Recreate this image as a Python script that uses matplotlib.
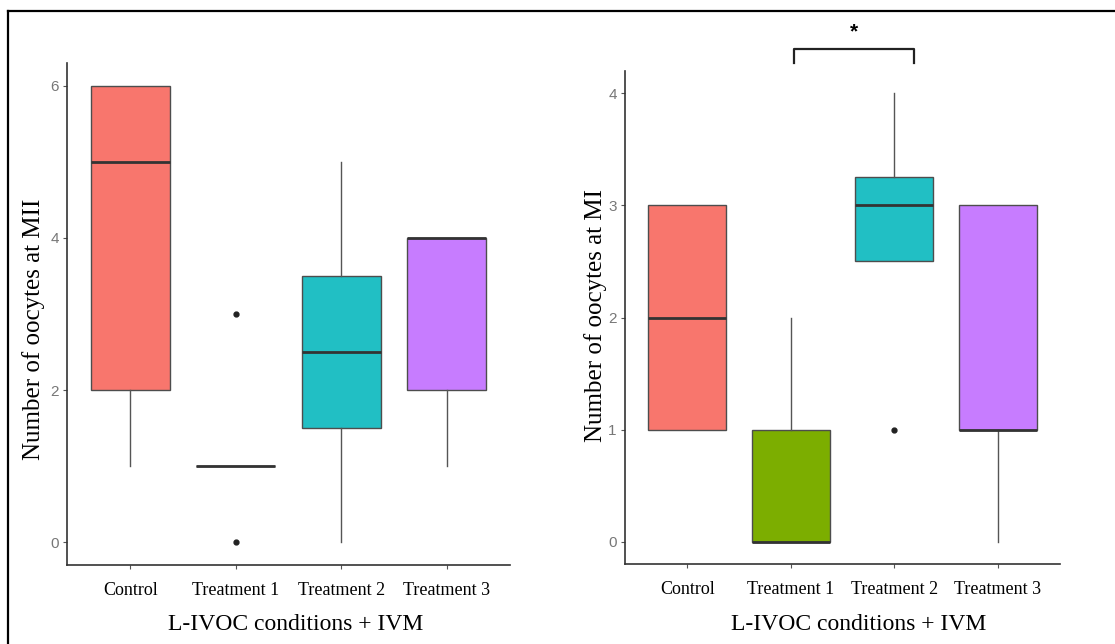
import matplotlib
matplotlib.use("Agg")
import matplotlib.pyplot as plt
from matplotlib.lines import Line2D

# groups on the x axis, shared by both panels
groups = ["Control", "Treatment 1", "Treatment 2", "Treatment 3"]
fills = ["#F8766D", "#7CAE00", "#21BFC4", "#C77CFF"]

# left panel: oocytes at MII (box stats)
mii_q1 = [2, 1, 1.5, 2]
mii_med = [5, 1, 2.5, 4]
mii_q3 = [6, 1, 3.5, 4]
mii_lo = [1, 1, 0, 1]
mii_hi = [6, 1, 5, 4]
mii_out = [[], [3, 0], [], []]

# right panel: oocytes at MI
mi_q1 = [1, 0, 2.5, 1]
mi_med = [2, 0, 3, 1]
mi_q3 = [3, 1, 3.25, 3]
mi_lo = [1, 0, 2.5, 0]
mi_hi = [3, 2, 4, 3]
mi_out = [[], [], [1], []]

serif = "Liberation Serif"
sans = "Liberation Sans"


def make_stats(q1, med, q3, lo, hi, out):
    stats = []
    for i in range(len(groups)):
        stats.append({"q1": q1[i], "med": med[i], "q3": q3[i],
                      "whislo": lo[i], "whishi": hi[i], "fliers": out[i]})
    return stats


def draw_panel(ax, stats, ymax, yticks):
    pos = list(range(1, len(groups) + 1))
    bp = ax.bxp(stats, positions=pos, widths=0.75, patch_artist=True,
                showcaps=False, showfliers=True,
                boxprops=dict(edgecolor="#4d4d4d", linewidth=1.0),
                medianprops=dict(color="#333333", linewidth=2.0),
                whiskerprops=dict(color="#555555", linewidth=1.0),
                flierprops=dict(marker="o", markersize=3.5,
                                markerfacecolor="#222222",
                                markeredgecolor="#222222"))
    for patch, c in zip(bp["boxes"], fills):
        patch.set_facecolor(c)
    for m in bp["medians"]:
        m.set_zorder(4)

    pad = ymax * 0.05
    ax.set_ylim(-pad, ymax + pad)
    ax.set_xlim(0.4, len(groups) + 0.6)
    ax.set_yticks(yticks)
    ax.set_xticks(pos)
    ax.set_xticklabels(groups, fontfamily=serif, fontsize=13, color="black")
    for lab in ax.get_yticklabels():
        lab.set_fontfamily(sans)
        lab.set_fontsize(11)
        lab.set_color("#777777")
    ax.tick_params(axis="both", length=3, width=0.8, color="#555555")
    ax.tick_params(axis="x", pad=9)
    ax.tick_params(axis="y", pad=3)
    for s in ["top", "right"]:
        ax.spines[s].set_visible(False)
    for s in ["left", "bottom"]:
        ax.spines[s].set_color("#333333")
        ax.spines[s].set_linewidth(1.2)


fig = plt.figure(figsize=(11.15, 6.44), dpi=100)
W, H = 1115.0, 644.0

ax1 = fig.add_axes([67 / W, 1 - 565 / H, 443 / W, 502 / H])
ax2 = fig.add_axes([625 / W, 1 - 564 / H, 435 / W, 493 / H])

draw_panel(ax1, make_stats(mii_q1, mii_med, mii_q3, mii_lo, mii_hi, mii_out),
           6, [0, 2, 4, 6])
draw_panel(ax2, make_stats(mi_q1, mi_med, mi_q3, mi_lo, mi_hi, mi_out),
           4, [0, 1, 2, 3, 4])

# axis titles
fig.text(34 / W, 1 - 329 / H, "Number of oocytes at MII", rotation=90,
         ha="center", va="center", fontfamily=serif, fontsize=18)
fig.text(596 / W, 1 - 316 / H, "Number of oocytes at MI", rotation=90,
         ha="center", va="center", fontfamily=serif, fontsize=18)
fig.text(296 / W, 1 - 624 / H, "L-IVOC conditions + IVM",
         ha="center", va="center", fontfamily=serif, fontsize=17)
fig.text(859 / W, 1 - 624 / H, "L-IVOC conditions + IVM",
         ha="center", va="center", fontfamily=serif, fontsize=17)

# significance bracket between Treatment 1 and Treatment 2 (right panel)
bx = [2.03, 2.03, 3.19, 3.19]
by = [4.27, 4.396, 4.396, 4.27]
ax2.plot(bx, by, color="#222222", linewidth=1.6, clip_on=False,
         solid_joinstyle="round")
ax2.text(2.61, 4.55, "*", ha="center", va="center", fontsize=15,
         fontweight="bold", fontfamily=sans, clip_on=False)

# frame lines (top and left) of the original figure crop
fig.add_artist(Line2D([8 / W, 1.0], [1 - 11 / H, 1 - 11 / H],
                      transform=fig.transFigure, color="black", linewidth=1.6))
fig.add_artist(Line2D([8 / W, 8 / W], [0.0, 1 - 11 / H],
                      transform=fig.transFigure, color="black", linewidth=1.6))

fig.savefig("out.png", dpi=100)
